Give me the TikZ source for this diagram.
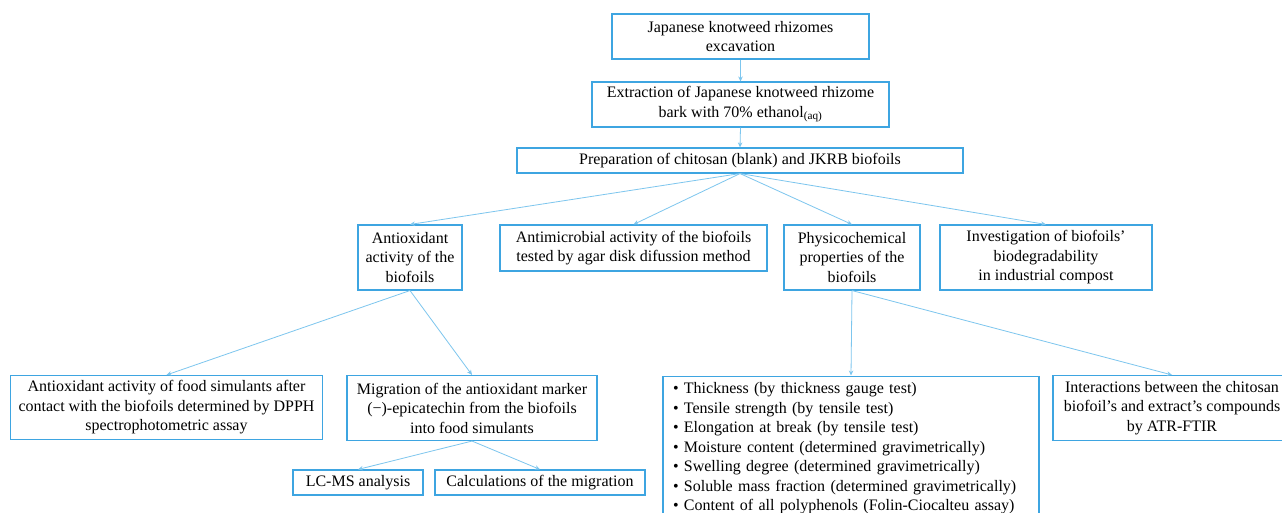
\documentclass[tikz,border=0pt]{standalone}
\usepackage{fontspec}
\setmainfont{Liberation Serif}
\usetikzlibrary{arrows.meta}
\definecolor{boxblue}{RGB}{62,165,225}
\definecolor{linkblue}{RGB}{125,198,238}
\begin{document}
\begin{tikzpicture}[x=1pt,y=-1pt,
  box/.style={draw=boxblue, line width=1.1pt, align=center, inner sep=2pt,
    font=\fontsize{16}{19.5}\selectfont},
  link/.style={draw=linkblue, line width=0.8pt, -{Stealth[length=5pt,width=4.5pt]}}]
\useasboundingbox (0,0) rectangle (1282,513);
\clip (0,0) rectangle (1282,513);
\fill[white] (0,0) rectangle (1282,513);
% level 1-3
\node[box, minimum width=257pt, minimum height=45pt] (b1) at (740.5,36.5)
  {Japanese knotweed rhizomes\\excavation};
\node[box, minimum width=297pt, minimum height=45pt] (b2) at (740.5,104.5)
  {Extraction of Japanese knotweed rhizome\\bark with 70\% ethanol\textsubscript{(aq)}};
\node[box, minimum width=446pt, minimum height=25pt] (b3) at (740,160.5)
  {Preparation of chitosan (blank) and JKRB biofoils};
% level 4
\node[box, minimum width=104pt, minimum height=65pt] (a) at (410,257.5)
  {Antioxidant\\activity of the\\biofoils};
\node[box, minimum width=267pt, minimum height=46pt] (m) at (633.5,248)
  {Antimicrobial activity of the biofoils\\tested by agar disk difussion method};
\node[box, minimum width=136pt, minimum height=65pt] (p) at (852,257.5)
  {Physicochemical\\properties of the\\biofoils};
\node[box, minimum width=212pt, minimum height=65pt] (i) at (1046,257.5)
  {Investigation of biofoils’\\biodegradability\\in industrial compost};
% level 5
\node[box, minimum width=312pt, minimum height=64pt] (af) at (166.5,407.5)
  {Antioxidant activity of food simulants after\\contact with the biofoils determined by DPPH\\spectrophotometric assay};
\node[box, minimum width=250pt, minimum height=65pt] (mg) at (472,408)
  {Migration of the antioxidant marker\\(−)-epicatechin from the biofoils\\into food simulants};
\node[box, minimum width=130pt, minimum height=25pt] (lc) at (358,482.5)
  {LC-MS analysis};
\node[box, minimum width=210pt, minimum height=25pt] (ca) at (540,482.5)
  {Calculations of the migration};
\node[box, anchor=north, text width=356pt, inner xsep=10pt, inner ysep=6.5pt, align=left] (l) at (851,375.5)
  {\textbullet\ Thickness (by thickness gauge test)\\
   \textbullet\ Tensile strength (by tensile test)\\
   \textbullet\ Elongation at break (by tensile test)\\
   \textbullet\ Moisture content (determined gravimetrically)\\
   \textbullet\ Swelling degree (determined gravimetrically)\\
   \textbullet\ Soluble mass fraction (determined gravimetrically)\\
   \textbullet\ Content of all polyphenols (Folin-Ciocalteu assay)};
\node[box, minimum width=238pt, minimum height=65pt] (in) at (1172,408)
  {Interactions between the chitosan\\biofoil’s and extract’s compounds\\by ATR-FTIR};
% connectors
\draw[link] (b1.south) -- (b2.north);
\draw[link] (b2.south) -- (b3.north);
\draw[link] (b3.south) -- (a.north);
\draw[link] (b3.south) -- (m.north);
\draw[link] (b3.south) -- (p.north);
\draw[link] (b3.south) -- (i.north);
\draw[link] (a.south) -- (af.north);
\draw[link] (a.south) -- (mg.north);
\draw[link] (p.south) -- (l.north);
\draw[link] (p.south) -- (in.north);
\draw[link] (mg.south) -- (lc.north);
\draw[link] (mg.south) -- (ca.north);
\end{tikzpicture}
\end{document}
